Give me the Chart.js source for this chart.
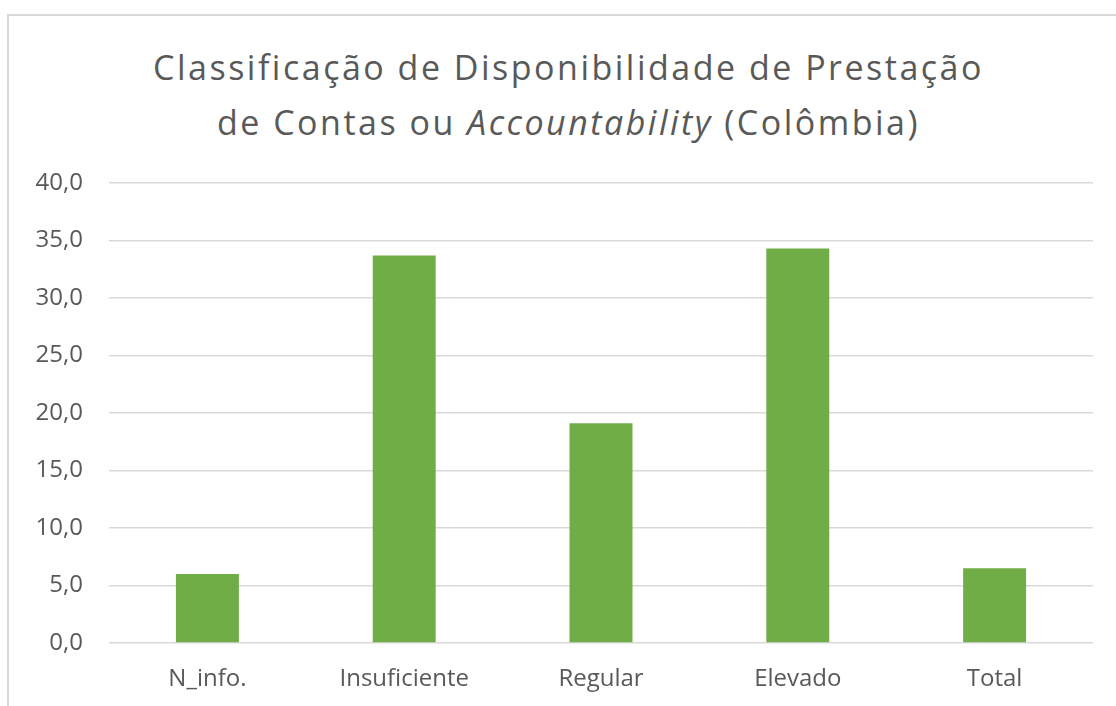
<!DOCTYPE html>
<html>
<head>
<meta charset="utf-8">
<script src="https://cdn.jsdelivr.net/npm/chart.js@4"></script>
<style>
  html, body { margin: 0; padding: 0; background: #fff; overflow: hidden; }
  #frame { position: absolute; left: 7px; top: 14px; width: 1130px; height: 720px;
           border: 2px solid #d9d9d9; box-sizing: border-box; }
  #title { position: absolute; left: 0; top: 40px; width: 1137px; text-align: center;
           font-family: "Open Sans", sans-serif; font-size: 34px; line-height: 55px;
           letter-spacing: 2.5px; color: #595959; white-space: nowrap; }
  #wrap { position: absolute; left: 0; top: 0; width: 1116px; height: 706px; }
</style>
</head>
<body>
<div id="frame"></div>
<div id="title">Classificação de Disponibilidade de Prestação<br>de Contas ou <i>Accountability</i> (Colômbia)</div>
<div id="wrap"><canvas id="c" width="1116" height="706"></canvas></div>
<script>
const categories = ['N_info.', 'Insuficiente', 'Regular', 'Elevado', 'Total'];
const values = [6.0, 33.7, 19.1, 34.3, 6.5];
const yTickValues = [0, 5, 10, 15, 20, 25, 30, 35, 40];
const yTickLabels = ['0,0', '5,0', '10,0', '15,0', '20,0', '25,0', '30,0', '35,0', '40,0'];

const font = { family: '"Open Sans", sans-serif', size: 24 };

new Chart(document.getElementById('c'), {
  type: 'bar',
  data: {
    labels: categories,
    datasets: [{
      data: values,
      backgroundColor: '#70AD47',
      borderWidth: 0,
      barPercentage: 0.32,
      categoryPercentage: 1.0
    }]
  },
  options: {
    responsive: false,
    animation: false,
    layout: { padding: { top: 183, right: 23, bottom: 0, left: 0 } },
    plugins: { legend: { display: false }, title: { display: false }, tooltip: { enabled: false } },
    scales: {
      x: {
        grid: { display: false, drawTicks: false },
        border: { display: false },
        ticks: { color: '#595959', font: font, padding: 22 },
        afterFit: s => { s.height = 63; }
      },
      y: {
        min: 0, max: 40,
        afterBuildTicks: s => { s.ticks = yTickValues.map(v => ({ value: v })); },
        grid: { color: '#d9d9d9', lineWidth: 1.5, drawTicks: false },
        border: { display: false },
        ticks: {
          color: '#595959', font: font, padding: 26,
          callback: (v) => yTickLabels[yTickValues.indexOf(v)]
        },
        afterFit: s => { s.width = 109; }
      }
    }
  }
});
</script>
</body>
</html>
